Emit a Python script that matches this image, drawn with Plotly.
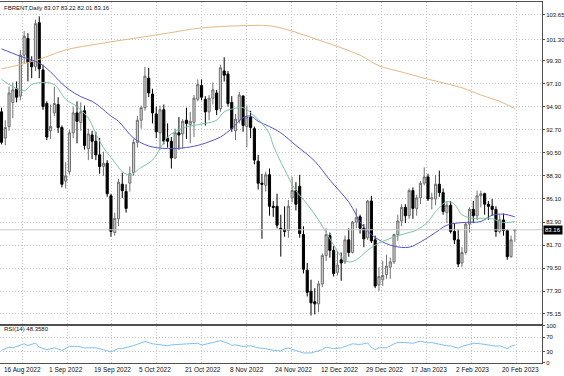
import pandas as pd
import plotly.graph_objects as go

# ---------------- data ----------------
dates = [d for d in pd.bdate_range("2022-08-16", "2023-02-24")
         if d.strftime("%Y-%m-%d") not in ("2022-12-26", "2023-01-02")]
bars = list(range(len(dates)))

opens = [
    94.4, 91.9, 93.0, 95.3, 96.6, 95.9, 99.8, 101.4, 99.2, 98.7,
    102.9, 98.4, 95.2, 92.6, 94.3, 95.1, 92.9, 87.8, 88.7, 92.4,
    94.3, 93.4, 94.5, 90.9, 92.2, 91.6, 90.3, 89.2, 89.5, 86.4,
    82.9, 84.2, 87.5, 86.8, 87.6, 88.6, 91.5, 93.6, 94.8, 97.6,
    96.1, 94.2, 92.4, 94.6, 91.9, 91.6, 90.0, 92.4, 92.3, 93.6,
    93.2, 93.4, 95.6, 96.9, 95.6, 94.4, 95.7, 96.2, 94.7, 98.3,
    98.0, 95.3, 92.6, 93.6, 95.9, 93.0, 93.9, 92.8, 89.7, 87.6,
    87.4, 88.4, 85.4, 85.4, 83.3, 83.2, 83.1, 86.2, 86.9, 87.3,
    82.7, 79.3, 77.3, 76.3, 76.1, 78.0, 80.7, 82.6, 81.2, 79.1,
    80.3, 80.1, 82.2, 81.0, 83.9, 84.4, 83.3, 82.4, 85.9, 82.2,
    77.9, 78.4, 78.9, 79.6, 80.1, 82.7, 84.0, 85.3, 84.5, 86.9,
    85.2, 86.2, 87.6, 88.2, 86.1, 86.1, 87.5, 86.7, 84.8, 85.5,
    83.0, 82.2, 80.0, 81.0, 83.7, 85.1, 84.5, 86.4, 86.6, 85.6,
    85.4, 85.1, 83.0, 84.1, 83.1, 80.6, 83.07]
highs = [
    94.8, 93.6, 96.8, 97.2, 97.3, 100.3, 102.1, 101.9, 99.7, 103.2,
    103.5, 98.9, 95.4, 95.1, 96.8, 95.8, 93.1, 89.6, 92.7, 94.9,
    95.4, 95.3, 95.0, 92.8, 92.6, 92.5, 91.9, 90.6, 89.8, 86.6,
    84.8, 88.0, 88.6, 87.5, 89.2, 91.8, 94.0, 95.0, 98.7, 98.6,
    96.6, 94.9, 95.0, 95.1, 93.3, 92.0, 92.8, 93.9, 93.7, 94.8,
    94.4, 96.0, 97.5, 97.5, 95.9, 96.0, 97.2, 96.5, 98.9, 99.6,
    98.3, 95.9, 94.2, 96.3, 96.0, 95.0, 94.5, 93.0, 90.3, 88.5,
    88.7, 89.0, 85.9, 86.6, 84.6, 85.4, 86.0, 88.2, 87.7, 88.4,
    83.5, 80.0, 78.4, 77.6, 78.3, 80.9, 83.3, 82.9, 81.6, 81.1,
    81.0, 82.6, 83.3, 84.0, 85.2, 84.6, 83.7, 86.0, 86.4, 82.6,
    79.6, 80.2, 80.8, 80.5, 82.8, 84.6, 85.6, 85.6, 87.1, 87.2,
    86.5, 87.8, 89.1, 88.5, 86.7, 88.4, 88.8, 87.1, 85.9, 85.9,
    83.8, 83.2, 81.5, 83.9, 85.3, 85.9, 86.9, 86.9, 86.7, 85.9,
    86.1, 85.4, 84.6, 84.7, 83.2, 82.6, 83.22]
lows = [
    91.3, 91.2, 92.6, 93.8, 95.3, 95.5, 99.0, 97.3, 97.6, 98.3,
    97.6, 94.6, 91.7, 91.8, 94.0, 92.4, 87.2, 87.1, 88.4, 91.9,
    91.4, 92.6, 90.8, 89.8, 89.9, 89.8, 88.5, 88.3, 86.3, 82.5,
    82.6, 83.5, 86.2, 84.8, 86.8, 88.3, 91.0, 92.8, 94.5, 95.8,
    93.3, 91.9, 90.8, 91.3, 91.0, 89.0, 89.9, 90.8, 90.9, 91.8,
    91.4, 92.0, 95.4, 95.5, 93.1, 93.6, 95.1, 94.1, 94.4, 97.3,
    94.9, 92.5, 91.7, 93.3, 92.5, 91.0, 91.9, 89.4, 87.0, 82.3,
    86.8, 84.5, 84.4, 83.3, 80.6, 82.5, 82.4, 85.8, 85.0, 82.4,
    79.0, 76.8, 75.0, 75.1, 75.3, 77.7, 80.2, 80.5, 78.7, 78.8,
    78.3, 79.9, 80.6, 80.9, 83.3, 82.8, 81.5, 82.2, 81.9, 77.6,
    77.3, 77.8, 78.5, 78.5, 79.9, 82.1, 83.5, 83.8, 84.2, 84.2,
    84.5, 85.6, 87.4, 85.9, 85.1, 85.5, 86.3, 84.6, 83.8, 82.8,
    81.8, 79.6, 79.6, 80.8, 82.9, 83.8, 84.1, 85.3, 84.6, 84.1,
    84.5, 82.5, 82.8, 82.6, 80.3, 80.5, 82.01]
closes = [
    91.5, 92.9, 96.2, 96.5, 95.8, 99.8, 101.6, 99.1, 98.7, 102.8,
    98.5, 94.9, 92.0, 93.0, 95.2, 92.9, 87.5, 88.3, 92.4, 94.3,
    93.5, 94.4, 91.2, 92.3, 91.6, 90.3, 89.2, 89.5, 86.6, 83.0,
    84.25, 87.7, 86.9, 85.2, 88.5, 91.5, 93.6, 94.8, 97.8, 96.2,
    94.3, 92.5, 94.6, 91.6, 91.6, 90.0, 92.4, 92.2, 93.5, 93.3,
    93.5, 95.7, 97.0, 95.8, 94.4, 95.7, 96.5, 94.6, 98.6, 97.9,
    95.2, 92.8, 93.7, 96.0, 93.1, 93.9, 92.9, 89.8, 87.6, 87.5,
    88.4, 85.4, 85.3, 83.6, 83.2, 83.0, 85.4, 86.9, 85.6, 82.8,
    79.4, 77.2, 76.2, 76.1, 78.0, 80.7, 82.7, 81.2, 79.0, 79.8,
    80.0, 82.2, 81.0, 83.9, 84.3, 83.3, 82.3, 85.9, 82.1, 77.8,
    78.7, 78.8, 79.7, 80.1, 82.7, 84.0, 85.3, 84.5, 86.9, 85.2,
    86.2, 87.6, 88.2, 86.1, 86.2, 87.5, 86.7, 84.9, 85.5, 83.0,
    82.2, 79.9, 81.0, 83.7, 85.1, 84.5, 86.4, 86.6, 85.6, 85.4,
    85.1, 83.0, 84.1, 83.1, 80.6, 82.2, 83.16]

# moving averages (bar index, value)
blue_idx = [0, 5, 10, 13, 16, 18, 21, 24, 26, 29, 31, 35, 39, 44, 49, 53, 55, 58, 61, 64,
            66, 68, 71, 74, 78, 83, 87, 92, 96, 100, 104, 108, 111, 115, 118, 122, 127, 130, 133, 136]
blue_val = [100.4, 99.7, 99.05, 98.2, 97.1, 96.5, 95.85, 95.4, 94.9, 94.0, 93.5, 91.9, 91.15, 90.9,
            91.0, 91.3, 91.55, 92.0, 92.8, 93.85, 94.0, 93.5, 93.0, 92.4, 91.2, 89.7, 87.9, 85.8,
            83.4, 82.2, 81.6, 81.5, 82.0, 82.9, 83.6, 83.85, 83.95, 84.55, 84.65, 84.4]
green_idx = [0, 3, 6, 8, 11, 14, 17, 20, 23, 25, 27, 30, 32, 34, 37, 40, 42, 44, 47, 50,
             54, 57, 59, 62, 64, 67, 69, 71, 72, 75, 78, 81, 84, 86, 88, 90, 92, 94, 97, 100,
             102, 105, 108, 110, 113, 115, 118, 120, 122, 125, 128, 130, 133, 136]
green_val = [97.5, 96.8, 96.4, 97.0, 97.2, 97.0, 95.6, 94.9, 93.8, 92.3, 91.0, 89.6, 88.7, 88.4,
             89.1, 89.8, 90.9, 92.0, 92.7, 93.05, 93.3, 93.6, 94.4, 94.74, 94.8, 94.0, 93.3, 92.3,
             91.2, 88.9, 86.9, 85.6, 84.1, 82.9, 81.7, 80.6, 80.1, 80.3, 81.2, 81.9, 82.2, 82.6,
             82.9, 83.14, 83.93, 84.88, 85.84, 85.6, 84.6, 84.26, 84.26, 84.2, 83.85, 83.95]
orange_idx = [0, 5, 10, 17, 26, 35, 44, 53, 63, 71, 76, 84, 90, 95, 100, 106, 111, 116, 122, 127, 132, 136]
orange_val = [98.5, 98.9, 99.4, 100.3, 100.9, 101.4, 101.9, 102.4, 102.6, 102.6, 102.2, 101.25,
              100.5, 99.8, 98.8, 98.2, 97.7, 97.25, 96.7, 96.0, 95.4, 94.7]

# RSI(14) (bar index, value)
rsi_idx = [0, 2, 3, 6, 7, 9, 10, 12, 14, 16, 18, 20, 22, 25, 27, 29, 31, 32, 35, 37,
           38, 40, 42, 44, 45, 48, 51, 52, 53, 55, 56, 58, 60, 61, 62, 64, 66, 68, 70, 72,
           74, 75, 76, 78, 80, 82, 85, 86, 88, 90, 91, 93, 95, 97, 98, 99, 100, 102, 104, 105,
           107, 109, 111, 113, 114, 116, 118, 119, 121, 122, 124, 125, 127, 129, 131, 132, 134, 135, 136]
rsi_val = [34, 43, 41, 52, 47, 54, 43, 36, 41, 34, 45, 45, 41, 41, 36, 30, 39, 39, 47, 53.5,
           58, 52, 50, 46.5, 49, 51, 52, 53.5, 48, 53.5, 54.5, 60.5, 53.5, 47.5, 49, 44.7, 46.5, 41, 38.6, 34.2,
           32.5, 38.6, 40.4, 34.2, 27.2, 27.2, 36, 43, 38.6, 41, 44.7, 51.8, 50, 54.4, 42, 36, 41, 41, 51.8, 55.3,
           55.3, 53.5, 58.8, 54.4, 55.3, 50, 46.5, 46, 40, 44.7, 51.8, 53.5, 51.8, 49.1, 45.6, 46.5, 38.6, 45.6, 48.358]

price_ticks = [103.65, 101.30, 99.30, 97.10, 94.90, 92.70, 90.50, 88.30, 86.10, 83.90,
               81.70, 79.50, 77.30, 75.15]
rsi_ticks = [0, 30, 70, 100]
date_label_idx = [0, 12, 24, 36, 48, 60, 72, 84, 96, 108, 120, 132]
date_labels = ["16 Aug 2022", "1 Sep 2022", "19 Sep 2022", "5 Oct 2022", "21 Oct 2022",
               "8 Nov 2022", "24 Nov 2022", "12 Dec 2022", "29 Dec 2022", "17 Jan 2023",
               "2 Feb 2023", "20 Feb 2023"]

# ---------------- styling ----------------
FONT = "Liberation Sans, Arial, sans-serif"
GRID = "#c4c4c4"
AXL = "#505050"
TXT = "#111111"
grid_x = [5.43 + 11.92 * k for k in range(12)]

fig = go.Figure()
fig.add_trace(go.Candlestick(
    x=bars, open=opens, high=highs, low=lows, close=closes,
    increasing=dict(line=dict(color="#707070", width=1), fillcolor="#d2d2d2"),
    decreasing=dict(line=dict(color="#000000", width=1), fillcolor="#000000"),
    whiskerwidth=0, showlegend=False, hoverinfo="skip", xaxis="x", yaxis="y"))
fig.add_trace(go.Scatter(x=orange_idx, y=orange_val, mode="lines", xaxis="x", yaxis="y",
                         line=dict(color="#e3b985", width=1, shape="spline"), showlegend=False))
fig.add_trace(go.Scatter(x=blue_idx, y=blue_val, mode="lines", xaxis="x", yaxis="y",
                         line=dict(color="#5555c4", width=1, shape="spline"), showlegend=False))
fig.add_trace(go.Scatter(x=green_idx, y=green_val, mode="lines", xaxis="x", yaxis="y",
                         line=dict(color="#7cc4a2", width=1, shape="spline"), showlegend=False))
fig.add_trace(go.Scatter(x=rsi_idx, y=rsi_val, mode="lines", xaxis="x2", yaxis="y2",
                         line=dict(color="#7fbfef", width=1), showlegend=False))

common_x = dict(range=[-0.4, 143.2], tickmode="array", tickvals=grid_x, showticklabels=False,
                ticks="", showgrid=True, gridcolor=GRID, griddash="1px,2px", gridwidth=1,
                showline=True, mirror=True, linecolor=AXL, linewidth=1, zeroline=False,
                automargin=False)
common_y = dict(side="right", tickmode="array", showgrid=True, gridcolor=GRID,
                griddash="1px,2px", gridwidth=1, showline=True, mirror=True, linecolor=AXL,
                linewidth=1, zeroline=False, ticks="outside", ticklen=2, tickcolor=AXL,
                ticklabelstandoff=0, automargin=False,
                tickfont=dict(family=FONT, size=6, color=TXT))

fig.update_layout(
    template="none",
    width=564, height=376,
    margin=dict(l=0, r=22, t=2, b=13, pad=0),
    paper_bgcolor="white", plot_bgcolor="white",
    boxgap=0.2,
    showlegend=False,
    xaxis=dict(domain=[0, 1], anchor="y", rangeslider=dict(visible=False), **common_x),
    xaxis2=dict(domain=[0, 1], anchor="y2", matches="x", **common_x),
    yaxis=dict(domain=[0.108, 1], anchor="x", range=[74.18, 104.87],
               tickvals=price_ticks, ticktext=[f"{v:.2f}" for v in price_ticks], **common_y),
    yaxis2=dict(domain=[0, 0.1025], anchor="x2", range=[0, 100],
                tickvals=rsi_ticks, ticktext=[str(v) for v in rsi_ticks], **common_y),
    font=dict(family=FONT, size=6, color=TXT),
)

# last price line and tag
fig.add_shape(type="line", xref="paper", x0=0, x1=1, yref="y", y0=closes[-1], y1=closes[-1],
              line=dict(color="#c8c8c8", width=1))
fig.add_annotation(xref="paper", x=1, xanchor="left", xshift=1, yref="y", y=closes[-1],
                   text=f"{closes[-1]:.2f}", showarrow=False, bgcolor="#000000",
                   font=dict(family=FONT, size=6, color="white"), borderpad=1)

# titles
fig.add_annotation(xref="paper", x=0.004, yref="paper", y=0.983, xanchor="left", yanchor="middle",
                   text=f"FBRENT,Daily {opens[-1]:.2f} {highs[-1]:.2f} {lows[-1]:.2f} {closes[-1]:.2f}",
                   showarrow=False, font=dict(family=FONT, size=6, color=TXT))
fig.add_annotation(xref="paper", x=0.004, yref="paper", y=0.094, xanchor="left", yanchor="middle",
                   text=f"RSI(14) {rsi_val[-1]:.4f}", showarrow=False,
                   font=dict(family=FONT, size=6, color=TXT))

# date labels
for i, lab in zip(date_label_idx, date_labels):
    fig.add_annotation(xref="x", x=i, yref="paper", y=0, yshift=-1, xanchor="left", yanchor="top",
                       text=lab, showarrow=False, font=dict(family=FONT, size=6.5, color=TXT))

fig.write_html("out.html",
               config={"displayModeBar": False, "staticPlot": True},
               post_script="document.body.style.margin='0px';document.body.style.overflow='hidden';")
